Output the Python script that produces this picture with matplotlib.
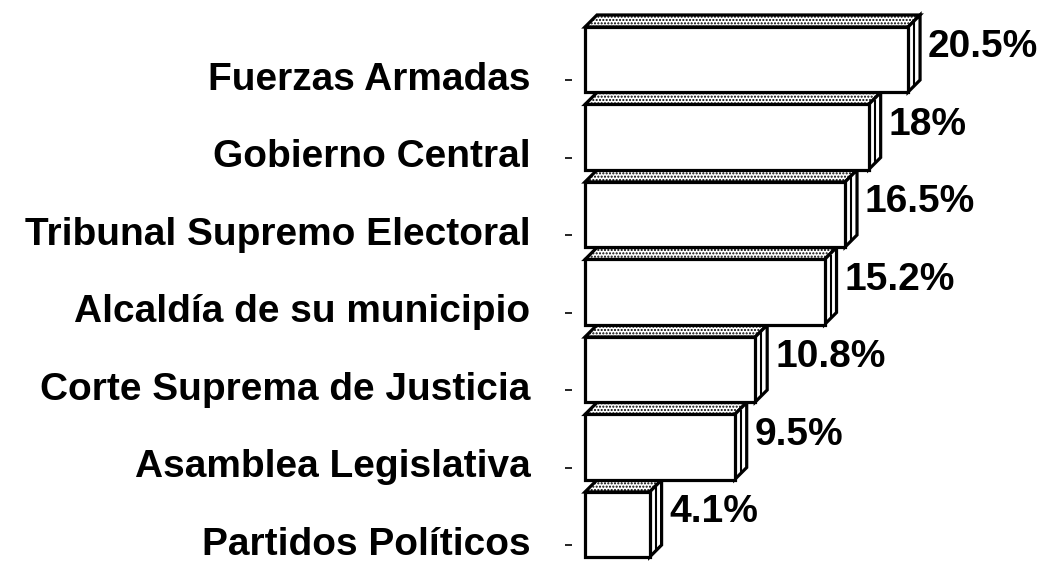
import numpy as np
import matplotlib
matplotlib.use("Agg")
import matplotlib.pyplot as plt
import matplotlib.transforms as mtransforms
from matplotlib.patches import Polygon

plt.rcParams['font.family'] = ['Liberation Sans', 'DejaVu Sans']
plt.rcParams['font.weight'] = 'bold'

instituciones = ["Fuerzas Armadas", "Gobierno Central", "Tribunal Supremo Electoral",
                 "Alcaldía de su municipio", "Corte Suprema de Justicia",
                 "Asamblea Legislativa", "Partidos Políticos"]
confianza = [20.5, 18, 16.5, 15.2, 10.8, 9.5, 4.1]
etiquetas = ["20.5%", "18%", "16.5%", "15.2%", "10.8%", "9.5%", "4.1%"]

W, H = 1043, 562
fig = plt.figure(figsize=(W / 100, H / 100), dpi=100)

# eje: x=0 en px 585, 15.76 px por punto; categorias cada 77.5 px desde y=80
px_x = 15.76
x0_px = 572
ax_left = x0_px / W
ax = fig.add_axes([ax_left, 0, 1 - ax_left, 1])
ax.set_xlim(-(585 - x0_px) / px_x, -(585 - x0_px) / px_x + (W - x0_px) / px_x)
paso = 77.5
ax.set_ylim((H - 80) / paso, -80 / paso)

alto = 0.839      # alto de la cara frontal
arriba = 0.684    # borde superior respecto del tick
dx = 0.76         # profundidad en x
dy = 0.155        # profundidad en y
lw = 2.3

y = np.arange(len(instituciones))
for i, v in enumerate(confianza):
    top = y[i] - arriba
    bot = top + alto
    # cara superior
    ax.add_patch(Polygon([(0, top), (dx, top - dy), (v + dx, top - dy), (v, top)],
                         closed=True, facecolor='white', edgecolor='black', lw=lw,
                         hatch='.....', zorder=3))
    # cara lateral
    ax.add_patch(Polygon([(v, top), (v + dx, top - dy), (v + dx, bot - dy), (v, bot)],
                         closed=True, facecolor='white', edgecolor='black', lw=lw, zorder=3))
    ax.plot([v + dx * 0.5, v + dx * 0.5], [top - dy * 0.3, bot - dy * 0.7],
            color='black', lw=1.5, zorder=4)
    # cara frontal
    ax.add_patch(Polygon([(0, top), (v, top), (v, bot), (0, bot)],
                         closed=True, facecolor='white', edgecolor='black', lw=lw, zorder=4))
    ax.text(v + dx + 0.5, y[i] - 0.42, etiquetas[i], fontsize=28, fontweight='bold',
            va='center', ha='left')

ax.set_yticks(y)
ax.set_yticklabels(instituciones, fontsize=28, fontweight='bold')
ax.tick_params(axis='y', length=5, width=1.2, pad=25)
subir = mtransforms.ScaledTranslation(0, 3 / 72, fig.dpi_scale_trans)
for lab in ax.get_yticklabels():
    lab.set_transform(lab.get_transform() + subir)
ax.set_xticks([])
for s in ax.spines.values():
    s.set_visible(False)

fig.savefig("out.png", dpi=100)
